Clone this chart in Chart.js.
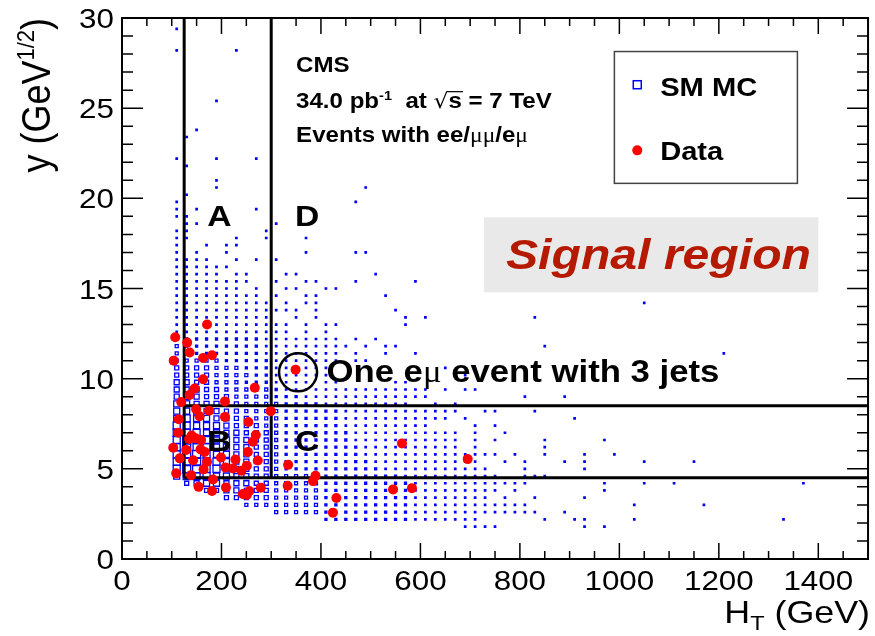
<!DOCTYPE html>
<html>
<head>
<meta charset="utf-8">
<script src="https://cdn.jsdelivr.net/npm/chart.js@4.4.1/dist/chart.umd.min.js"></script>
<style>
  html, body { margin: 0; padding: 0; background: #fff; }
  #wrap { width: 875px; height: 636px; }
</style>
</head>
<body>
<div id="wrap"><canvas id="chart" width="875" height="636"></canvas></div>
<script>
// --- SM MC histogram (box plot), bins of 20 GeV x 0.4 GeV^1/2 ---
// each string is one y row, one char per HT bin starting at HT = 110
// '.' = empty, digit = box size level
const mcFirstHT = 110;
const mcStepHT = 20;
const mcRowY = [17.4, 17.0, 16.6, 16.2, 15.8, 15.4, 15.0, 14.6, 14.2, 13.8,
                13.4, 13.0, 12.6, 12.2, 11.8, 11.4, 11.0, 10.6, 10.2, 9.8,
                9.4, 9.0, 8.6, 8.2, 7.8, 7.4, 7.0, 6.6, 6.2, 5.8,
                5.4, 5.0, 4.6, 4.2, 3.8, 3.4, 3.0, 2.6, 2.2];
const mcRowCells = [
  "1..1.11",
  "1.1..1.......1....11",
  "1111..1.1.1",
  "111111",
  "11111.11...11.......1",
  "11111111..1..11...1.....1",
  "1111111.1..11..11",
  "111111111.1..11......1",
  "1111111111.1.11",
  "1111111111111.1.......1",
  "1111111111..1.1........1.1",
  "111111111111.1.11......1",
  "111111111111.1.1",
  "22222222211111111.1.1",
  "322222222111111111.1.11",
  "33222222211111111.1..1..1",
  "33333222221111111.11",
  "4444333222111111...........1",
  "4444333322111111.............1",
  "55443332221111.11.....11",
  "55544333332111111111111111.1.11",
  "56544433332221111111111111.........1",
  "665554433332222111111111..1.1",
  "66655443333222222111111111111..11...1",
  "6766554433322222211111111111.1",
  "77666544433222222111111111....1.1",
  "77766554443222222211111111111.1..1",
  "78776655443222222211111111111.1.1",
  "78776655443222222221111111111.1",
  "788766554432222222211111111111111.1",
  "7887765544322222222211111111111..1.1",
  "78877655443222222222211111111111...1",
  "677766554433333222222221111111111..1",
  ".45665554433333222222222111111111111",
  "...445544433333222222222111111111.1",
  ".....444443333322222222211111111.1",
  ".......33333333222222222111111111111",
  "..........33333222222222111111111111",
  "...............2222222221111111"
];
// isolated MC bins (smallest boxes)
const mcLoneHT = [110, 110, 230, 190, 150, 130, 110, 190, 270, 130, 190, 190, 490, 130, 110, 470,
                  110, 150, 270, 110, 130, 130, 150, 310, 110, 130, 290, 110, 130, 230, 290, 370,
                  1050, 830, 850, 1210, 890, 910, 850, 970, 850, 850, 930, 990, 890, 930, 1050, 1150,
                  930, 830, 850, 970, 1050, 1110, 1370, 970, 830, 930, 1030, 1170, 890, 830,
                  850, 910, 930, 1030, 1330, 930, 970, 690, 710, 730, 750];
const mcLoneY  = [29.4, 28.2, 28.2, 25.4, 23.8, 23.4, 22.2, 22.2, 22.2, 21.8, 21.0, 20.6, 20.6, 20.2, 19.8, 19.8,
                  19.4, 19.4, 19.4, 19.0, 19.0, 18.6, 18.6, 18.6, 18.2, 18.2, 18.2, 17.8, 17.8, 17.8, 17.8, 17.8,
                  14.2, 13.4, 11.8, 11.4, 9.0, 7.8, 6.6, 6.6, 6.2, 5.8, 5.8, 5.8, 5.4, 5.4, 5.4, 5.4,
                  5.0, 4.6, 4.6, 4.2, 4.2, 4.2, 4.2, 3.8, 3.4, 3.4, 3.0, 3.0, 2.6, 2.6,
                  2.2, 2.2, 2.2, 2.2, 2.2, 1.8, 1.8, 1.8, 1.8, 1.8, 1.8];

// --- Data events ---
const dataHT = [171, 107, 131, 136, 181, 163, 104, 349, 163, 267, 146, 136, 119, 207, 149, 175,
                299, 156, 207, 114, 254, 113, 269, 140, 148, 135, 159, 263, 103, 129, 158, 166,
                253, 116, 143, 171, 199, 228, 273, 334, 164, 109, 208, 223, 240, 251, 139, 183,
                389, 384, 209, 154, 181, 243, 251, 256, 279, 333, 431, 424, 545, 563, 695, 583];
const dataY  = [13.0, 12.3, 12.0, 11.45, 11.3, 11.15, 11.0, 10.5, 9.97, 9.5, 9.45, 9.1, 8.7, 8.74, 8.3, 8.22,
                8.2, 7.92, 7.88, 7.75, 7.6, 7.0, 6.87, 6.85, 6.7, 6.65, 6.6, 6.5, 6.17, 6.05, 6.08, 5.94,
                5.94, 5.58, 5.48, 5.39, 5.63, 5.52, 5.46, 5.22, 4.97, 4.75, 5.08, 5.02, 4.9, 5.17, 4.65, 4.41,
                4.62, 4.32, 3.97, 4.0, 3.77, 3.6, 3.55, 3.77, 3.95, 4.06, 3.38, 2.57, 3.86, 6.41, 5.54, 3.93];

// --- axes and region cuts ---
const xTickValues = [0, 200, 400, 600, 800, 1000, 1200, 1400];
const yTickValues = [0, 5, 10, 15, 20, 25, 30];
const htCuts = [125, 300];
const yCuts = [4.5, 8.5];

const SX = 1.12; // picture is slightly stretched horizontally
const FAM = "'Liberation Sans', Arial, Helvetica, sans-serif";
const SERIF = "'Liberation Serif', 'DejaVu Serif', serif";
const font = (size, weight, style) => `${style || ''} ${weight || ''} ${size}px ${FAM}`;

// build points
const mcPoints = [];
mcRowCells.forEach((row, r) => {
    for (let c = 0; c < row.length; c++) {
        if (row[c] === '.') continue;
        mcPoints.push({ x: mcFirstHT + c * mcStepHT, y: mcRowY[r], s: Number(row[c]) });
    }
});
mcLoneHT.forEach((ht, i) => mcPoints.push({ x: ht, y: mcLoneY[i], s: 1 }));
const dataPoints = dataHT.map((ht, i) => ({ x: ht, y: dataY[i] }));

// box side in px for a size level
const boxRadius = s => (s <= 1 ? 1.4 : s <= 2 ? 2.0 : s) / Math.SQRT2;

// text helpers
function richText(ctx, parts, align) {
    let w = 0;
    parts.forEach(p => { ctx.font = p[1]; w += ctx.measureText(p[0]).width; });
    let cx = align === 'right' ? -w : (align === 'center' ? -w / 2 : 0);
    const spans = [];
    parts.forEach(p => {
        ctx.font = p[1];
        ctx.fillText(p[0], cx, p[2] || 0);
        const pw = ctx.measureText(p[0]).width;
        spans.push([cx, cx + pw]);
        cx += pw;
    });
    return spans;
}
function stretched(ctx, x, y, rot, fn) {
    ctx.save();
    ctx.translate(x, y);
    ctx.scale(SX, 1);
    if (rot) ctx.rotate(rot);
    fn();
    ctx.restore();
}

const rootStyle = {
    id: 'rootStyle',
    afterDatasetDraw(chart, args) {
        if (args.index !== 1) return;
        // region boundaries, drawn over MC but under data
        const ctx = chart.ctx;
        const X = v => chart.scales.x.getPixelForValue(v);
        const Y = v => chart.scales.y.getPixelForValue(v);
        ctx.save();
        ctx.strokeStyle = '#000';
        ctx.lineWidth = 3;
        ctx.beginPath();
        htCuts.forEach(h => { ctx.moveTo(X(h), Y(30)); ctx.lineTo(X(h), Y(yCuts[0])); });
        yCuts.forEach(v => { ctx.moveTo(X(htCuts[0]), Y(v)); ctx.lineTo(X(1500), Y(v)); });
        ctx.stroke();
        ctx.restore();
    },
    afterDraw(chart) {
        const ctx = chart.ctx;
        const { left, right, top, bottom } = chart.chartArea;
        const xs = chart.scales.x, ys = chart.scales.y;
        const X = v => xs.getPixelForValue(v);
        const Y = v => ys.getPixelForValue(v);
        ctx.save();

        // signal region label
        ctx.fillStyle = '#e9e9e9';
        ctx.fillRect(X(728), Y(18.95), X(1400) - X(728), Y(14.79) - Y(18.95));
        ctx.fillStyle = '#b51a00';
        ctx.textAlign = 'left';
        ctx.textBaseline = 'alphabetic';
        stretched(ctx, X(772), Y(16.1), 0, () => richText(ctx, [['Signal region', font(43, 'bold', 'italic')]]));

        // legend
        ctx.fillStyle = '#fff';
        ctx.strokeStyle = '#444';
        ctx.lineWidth = 1.5;
        ctx.fillRect(X(990), Y(28.14), X(1358) - X(990), Y(20.83) - Y(28.14));
        ctx.strokeRect(X(990), Y(28.14), X(1358) - X(990), Y(20.83) - Y(28.14));
        ctx.strokeStyle = '#0000ff';
        ctx.lineWidth = 1.5;
        ctx.strokeRect(X(1036) - 4, Y(26.3) - 4, 8, 8);
        ctx.fillStyle = '#ff0000';
        ctx.beginPath(); ctx.arc(X(1036), Y(22.66), 5, 0, Math.PI * 2); ctx.fill();
        ctx.fillStyle = '#000';
        stretched(ctx, X(1082), Y(25.7), 0, () => richText(ctx, [['SM MC', font(26, 'bold')]]));
        stretched(ctx, X(1082), Y(22.1), 0, () => richText(ctx, [['Data', font(26, 'bold')]]));

        // CMS block
        const b21 = font(21.5, 'bold');
        stretched(ctx, X(350), Y(27.0), 0, () => richText(ctx, [['CMS', b21]]));
        stretched(ctx, X(350), Y(25.0), 0, () => {
            const sp = richText(ctx, [['34.0 pb', b21], ['-1', font(13, 'bold'), -8], ['  at ', b21],
                                      ['\u221A', `21px 'DejaVu Sans', sans-serif`], ['s', b21], [' = 7 TeV', b21]]);
            ctx.lineWidth = 1.2;
            ctx.strokeStyle = '#000';
            ctx.beginPath(); ctx.moveTo(sp[3][1] - 1, -16.5); ctx.lineTo(sp[4][1] + 1, -16.5); ctx.stroke();
        });
        stretched(ctx, X(350), Y(23.1), 0, () => richText(ctx, [['Events with ee/', b21], ['\u03BC\u03BC', `21px ${SERIF}`],
                                                                  ['/e', b21], ['\u03BC', `21px ${SERIF}`]]));

        // region letters
        const b30 = font(30, 'bold');
        [['A', 196, 18.45], ['D', 372, 18.45], ['B', 196, 6.0], ['C', 372, 6.0]].forEach(l => {
            stretched(ctx, X(l[1]), Y(l[2]), 0, () => richText(ctx, [[l[0], b30]], 'center'));
        });

        // the e-mu event
        ctx.strokeStyle = '#000';
        ctx.lineWidth = 2.5;
        ctx.beginPath(); ctx.arc(X(354), Y(10.35), 19, 0, Math.PI * 2); ctx.stroke();
        stretched(ctx, X(411), Y(9.8), 0, () => richText(ctx, [['One e', font(31, 'bold')], ['\u03BC', `31px ${SERIF}`],
                                                              [' event with 3 jets', font(31, 'bold')]]));

        // frame and inward ticks
        ctx.strokeStyle = '#000';
        ctx.lineWidth = 1.5;
        ctx.beginPath();
        for (let v = 0; v <= 1500; v += 50) {
            const p = X(v), len = v % 200 === 0 ? 16 : 8;
            ctx.moveTo(p, bottom); ctx.lineTo(p, bottom - len);
            ctx.moveTo(p, top); ctx.lineTo(p, top + len);
        }
        for (let v = 0; v <= 30; v += 1) {
            const p = Y(v), len = v % 5 === 0 ? 21 : 11;
            ctx.moveTo(left, p); ctx.lineTo(left + len, p);
            ctx.moveTo(right, p); ctx.lineTo(right - len, p);
        }
        ctx.stroke();
        ctx.lineWidth = 2;
        ctx.strokeRect(left, top, right - left, bottom - top);

        // tick labels
        ctx.fillStyle = '#000';
        xTickValues.forEach(v => stretched(ctx, X(v), bottom + 31, 0, () => richText(ctx, [[String(v), font(28)]], 'center')));
        yTickValues.forEach(v => stretched(ctx, left - 8, Y(v) + 10, 0, () => richText(ctx, [[String(v), font(28)]], 'right')));

        // axis titles
        stretched(ctx, right + 2, 623, 0, () => richText(ctx, [['H', font(32)], ['T', font(21), 7], [' (GeV)', font(32)]], 'right'));
        stretched(ctx, 50, top, -Math.PI / 2, () => richText(ctx, [['y (GeV', font(36)], ['1/2', font(22), -14], [')', font(36)]], 'right'));

        ctx.restore();
    }
};

const chart = new Chart(document.getElementById('chart'), {
    type: 'scatter',
    data: {
        datasets: [
            {
                label: 'Data',
                data: dataPoints,
                pointStyle: 'circle',
                pointRadius: 5,
                backgroundColor: '#ff0000',
                borderWidth: 0
            },
            {
                label: 'SM MC',
                data: mcPoints,
                pointStyle: 'rect',
                pointRadius: c => boxRadius(c.raw ? c.raw.s : 1),
                backgroundColor: c => (c.raw && c.raw.s <= 2) ? '#0000ff' : 'rgba(0,0,0,0)',
                borderColor: '#0000ff',
                borderWidth: 1.3
            }
        ]
    },
    options: {
        responsive: false,
        animation: false,
        events: [],
        layout: { padding: { top: 18, right: 2, left: 0, bottom: 0 } },
        plugins: { legend: { display: false }, tooltip: { enabled: false } },
        scales: {
            x: {
                type: 'linear', min: 0, max: 1500,
                grid: { display: false, drawTicks: false },
                border: { display: false },
                ticks: { display: false },
                afterFit: s => { s.height = 77; }
            },
            y: {
                type: 'linear', min: 0, max: 30,
                grid: { display: false, drawTicks: false },
                border: { display: false },
                ticks: { display: false },
                afterFit: s => { s.width = 122; }
            }
        }
    },
    plugins: [rootStyle]
});
</script>
</body>
</html>
